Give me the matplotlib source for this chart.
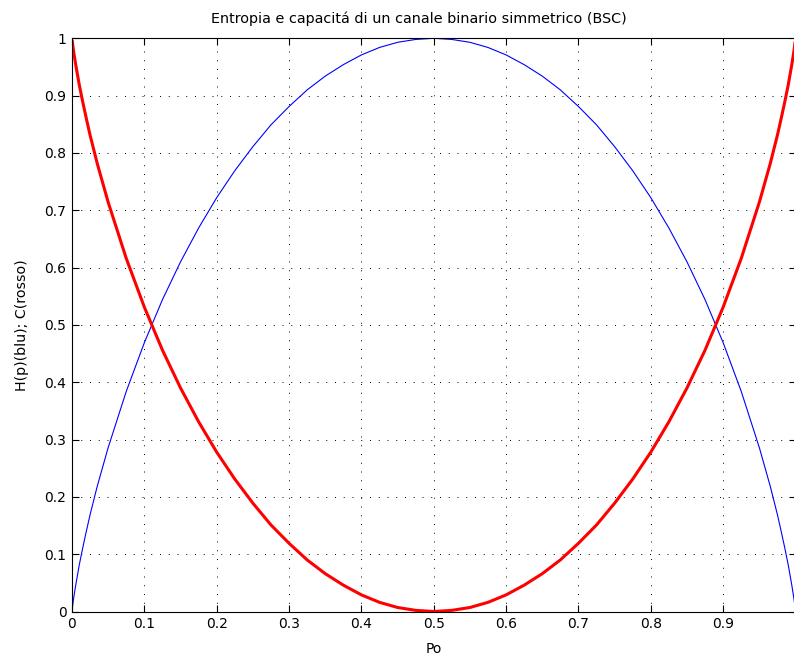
import matplotlib
matplotlib.use("Agg")
import matplotlib.pyplot as plt

# Values
p_vals = [0.0005, 0.002, 0.005, 0.01, 0.015, 0.02, 0.025, 0.035, 0.05, 0.075, 0.10, 0.125,
          0.15, 0.175, 0.20, 0.225, 0.25, 0.275, 0.30, 0.325, 0.35, 0.375, 0.40, 0.425,
          0.45, 0.475, 0.50, 0.525, 0.55, 0.575, 0.60, 0.625, 0.65, 0.675, 0.70, 0.725,
          0.75, 0.775, 0.80, 0.825, 0.85, 0.875, 0.90, 0.925, 0.95, 0.965, 0.975, 0.98,
          0.985, 0.99, 0.995, 0.998, 0.9995]
h_vals = [0.006, 0.021, 0.045, 0.081, 0.112, 0.141, 0.169, 0.219, 0.286, 0.384, 0.469, 0.544,
          0.610, 0.669, 0.722, 0.769, 0.811, 0.849, 0.881, 0.910, 0.934, 0.954, 0.971, 0.984,
          0.993, 0.998, 1.000, 0.998, 0.993, 0.984, 0.971, 0.954, 0.934, 0.910, 0.881, 0.849,
          0.811, 0.769, 0.722, 0.669, 0.610, 0.544, 0.469, 0.384, 0.286, 0.219, 0.169, 0.141,
          0.112, 0.081, 0.045, 0.021, 0.006]
c_vals = [0.994, 0.979, 0.955, 0.919, 0.888, 0.859, 0.831, 0.781, 0.714, 0.616, 0.531, 0.456,
          0.390, 0.331, 0.278, 0.231, 0.189, 0.151, 0.119, 0.090, 0.066, 0.046, 0.029, 0.016,
          0.007, 0.002, 0.000, 0.002, 0.007, 0.016, 0.029, 0.046, 0.066, 0.090, 0.119, 0.151,
          0.189, 0.231, 0.278, 0.331, 0.390, 0.456, 0.531, 0.616, 0.714, 0.781, 0.831, 0.859,
          0.888, 0.919, 0.955, 0.979, 0.994]

x_ticks = [0, 0.1, 0.2, 0.3, 0.4, 0.5, 0.6, 0.7, 0.8, 0.9]
x_tick_labels = ["0", "0.1", "0.2", "0.3", "0.4", "0.5", "0.6", "0.7", "0.8", "0.9"]
y_ticks = [0, 0.1, 0.2, 0.3, 0.4, 0.5, 0.6, 0.7, 0.8, 0.9, 1]
y_tick_labels = ["0", "0.1", "0.2", "0.3", "0.4", "0.5", "0.6", "0.7", "0.8", "0.9", "1"]

title = "Entropia e capacitá di un canale binario simmetrico (BSC)"
xlabel = "Po"
ylabel = "H(p)(blu); C(rosso)"

plt.rcParams['font.family'] = ['DejaVu Sans']

W, H = 794, 659
fig = plt.figure(figsize=(W / 100, H / 100), dpi=100)
left, right, top, bottom = 72, 795.5, 38.3, 611.5
ax = fig.add_axes([left / W, (H - bottom) / H, (right - left) / W, (bottom - top) / H])

ax.plot(p_vals, h_vals, color="#0000ff", lw=0.8)
ax.plot(p_vals, c_vals, color="#ff0000", lw=2.2)

ax.set_xlim(0, 1)
ax.set_ylim(0, 1)
ax.set_xticks(x_ticks)
ax.set_xticklabels(x_tick_labels)
ax.set_yticks(y_ticks)
ax.set_yticklabels(y_tick_labels)

ax.tick_params(direction="in", length=5.2, width=0.8, top=True, right=True,
               labelsize=10, pad=4, colors="black")
ax.grid(True, color="black", linestyle=(0, (1, 8)), linewidth=0.7)
for s in ax.spines.values():
    s.set_linewidth(0.8)
    s.set_color("black")

ax.set_title(title, fontsize=10.4, pad=11, x=0.479)
ax.set_xlabel(xlabel, fontsize=10, labelpad=8)
ax.set_ylabel(ylabel, fontsize=10.2, labelpad=11)

fig.savefig("out.png", dpi=100)
